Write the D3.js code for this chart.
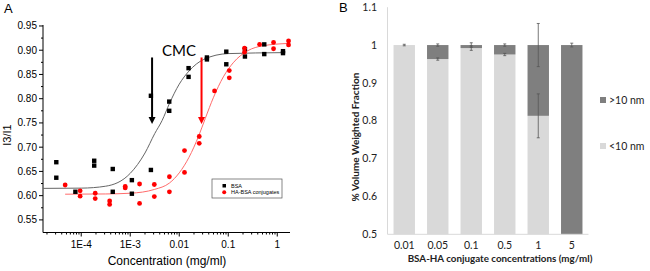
<!DOCTYPE html>
<html>
<head>
<meta charset="utf-8">
<script src="https://cdn.jsdelivr.net/npm/d3@7"></script>
<style>
body { margin: 0; background: #fff; }
</style>
</head>
<body>
<div id="chart"></div>
<script>
// ---- panel A data: I3/I1 ratio vs concentration ----
let bsaConc = [3.1e-5, 3.1e-5, 7.6e-5, 1.84e-4, 1.84e-4, 4.4e-4, 4.4e-4, 1.08e-3, 1.08e-3, 2.64e-3, 2.64e-3,
    6.25e-3, 6.25e-3, 0.0155, 0.0155, 0.0367, 0.0367, 0.0912, 0.0912, 0.219, 0.219, 0.543, 0.543, 1.31, 1.31]
let bsaRatio = [0.669, 0.637, 0.608, 0.672, 0.662, 0.655, 0.608, 0.632, 0.604, 0.653, 0.806,
    0.794, 0.775, 0.863, 0.845, 0.885, 0.881, 0.897, 0.871, 0.902, 0.887, 0.912, 0.892, 0.898, 0.894]
let conjConc = [4.7e-5, 9.5e-5, 9.5e-5, 1.93e-4, 1.93e-4, 3.8e-4, 3.8e-4, 7.9e-4, 7.9e-4, 1.55e-3, 1.55e-3,
    3.1e-3, 3.1e-3, 6.3e-3, 6.3e-3, 0.0128, 0.0128, 0.0256, 0.0256, 0.0525, 0.105, 0.105, 0.215, 0.215,
    0.436, 0.84, 0.84, 1.7, 1.7]
let conjRatio = [0.622, 0.610, 0.599, 0.605, 0.594, 0.589, 0.582, 0.619, 0.616, 0.624, 0.584,
    0.623, 0.598, 0.639, 0.608, 0.693, 0.648, 0.722, 0.708, 0.816, 0.858, 0.843, 0.904, 0.896,
    0.912, 0.916, 0.903, 0.919, 0.911]

// fitted sigmoid curves
let bsaFitConc = [1.66e-5, 1e-4, 3.16e-4, 1e-3, 2e-3, 3.16e-3, 4.47e-3, 6.3e-3, 0.01, 0.0158, 0.0316, 0.1, 1.32]
let bsaFitRatio = [0.615, 0.6155, 0.6195, 0.646, 0.688, 0.728, 0.755, 0.790, 0.830, 0.857, 0.881, 0.893, 0.895]
let conjFitConc = [4.7e-5, 3.16e-4, 1e-3, 3.16e-3, 6.3e-3, 0.01, 0.0158, 0.0251, 0.0339, 0.0501, 0.0794, 0.126, 0.251, 0.501, 1.7]
let conjFitRatio = [0.603, 0.6035, 0.605, 0.613, 0.626, 0.647, 0.679, 0.724, 0.759, 0.803, 0.845, 0.874, 0.899, 0.909, 0.914]

// CMC arrows
let cmcConc = [2.79e-3, 0.0285]
let cmcColors = ["#000", "#ff0000"]
let arrowFrom = 0.885, arrowTo = 0.748

let xTicksA = [1e-4, 1e-3, 0.01, 0.1, 1]
let xLabelsA = ["1E-4", "1E-3", "0.01", "0.1", "1"]
let yTicksA = [0.55, 0.60, 0.65, 0.70, 0.75, 0.80, 0.85, 0.90, 0.95]

// ---- panel B data: volume weighted fraction ----
let categories = ["0.01", "0.05", "0.1", "0.5", "1", "5"]
let under10 = [1.0, 0.963, 0.992, 0.975, 0.813, 0]
let over10 = [0, 0.037, 0.008, 0.025, 0.187, 1.0]
let under10Err = [0.002, 0.003, 0.006, 0.003, 0.058, 0]
let over10Err = [0, 0.003, 0.006, 0.003, 0.057, 0.005]
let yTicksB = [0.5, 0.6, 0.7, 0.8, 0.9, 1.0, 1.1]

let svg = d3.select("#chart").append("svg")
    .attr("width", 650)
    .attr("height", 271)
    .style("font-family", "'Liberation Sans', Arial, sans-serif")

// ================= panel A =================
let xA = d3.scaleLog().domain([Math.pow(10, -4.78), Math.pow(10, 0.26)]).range([43, 290])
let yA = d3.scaleLinear().domain([0.524, 0.952]).range([232.5, 25])

let gA = svg.append("g")

gA.append("text").attr("x", 4).attr("y", 13).attr("font-size", 13).text("A")

// y axis
let minorY = d3.range(0.575, 0.95, 0.05)
gA.append("line").attr("x1", 43).attr("x2", 43).attr("y1", yA.range()[0]).attr("y2", yA.range()[1])
    .attr("stroke", "#000").attr("stroke-width", 1)
gA.selectAll(".ytk").data(yTicksA).enter().append("line")
    .attr("x1", 39).attr("x2", 43).attr("y1", d => yA(d)).attr("y2", d => yA(d))
    .attr("stroke", "#000")
gA.selectAll(".ymn").data(minorY).enter().append("line")
    .attr("x1", 41).attr("x2", 43).attr("y1", d => yA(d)).attr("y2", d => yA(d))
    .attr("stroke", "#000")
gA.selectAll(".ylb").data(yTicksA).enter().append("text")
    .attr("x", 37).attr("y", d => yA(d)).attr("dy", "0.35em")
    .attr("text-anchor", "end").attr("font-size", 10)
    .text(d => d.toFixed(2))

// x axis
let minorX = []
for (let dec = 1e-5; dec < 10; dec *= 10) {
    for (let k = 2; k <= 9; k++) {
        let v = k * dec
        if (v > xA.domain()[0] && v < xA.domain()[1]) minorX.push(v)
    }
}
gA.append("line").attr("x1", 43).attr("x2", 290).attr("y1", 232.5).attr("y2", 232.5)
    .attr("stroke", "#000")
gA.selectAll(".xtk").data(xTicksA).enter().append("line")
    .attr("x1", d => xA(d)).attr("x2", d => xA(d)).attr("y1", 232.5).attr("y2", 236.5)
    .attr("stroke", "#000")
gA.selectAll(".xmn").data(minorX).enter().append("line")
    .attr("x1", d => xA(d)).attr("x2", d => xA(d)).attr("y1", 232.5).attr("y2", 234.5)
    .attr("stroke", "#000")
gA.selectAll(".xlb").data(xTicksA).enter().append("text")
    .attr("x", d => xA(d)).attr("y", 248)
    .attr("text-anchor", "middle").attr("font-size", 10)
    .text((d, i) => xLabelsA[i])

gA.append("text").attr("x", 167).attr("y", 265).attr("text-anchor", "middle")
    .attr("font-size", 12).text("Concentration (mg/ml)")
gA.append("text").attr("transform", "translate(11,135) rotate(-90)")
    .attr("text-anchor", "middle").attr("font-size", 11).text("I3/I1")

// fit lines
let fitLine = d3.line().x(d => xA(d[0])).y(d => yA(d[1])).curve(d3.curveMonotoneX)
gA.append("path").datum(d3.zip(bsaFitConc, bsaFitRatio))
    .attr("d", fitLine).attr("fill", "none").attr("stroke", "#666").attr("stroke-width", 1)
gA.append("path").datum(d3.zip(conjFitConc, conjFitRatio))
    .attr("d", fitLine).attr("fill", "none").attr("stroke", "#ff6b6b").attr("stroke-width", 1)

// points
gA.selectAll(".bsa").data(d3.zip(bsaConc, bsaRatio)).enter().append("rect")
    .attr("x", d => xA(d[0]) - 2.2).attr("y", d => yA(d[1]) - 2.2)
    .attr("width", 4.4).attr("height", 4.4).attr("fill", "#000")
gA.selectAll(".conj").data(d3.zip(conjConc, conjRatio)).enter().append("circle")
    .attr("cx", d => xA(d[0])).attr("cy", d => yA(d[1])).attr("r", 2.4)
    .attr("fill", "#ff0000")

// CMC arrows
cmcConc.forEach(function(c, i) {
    let ax = xA(c), y0 = yA(arrowFrom), y1 = yA(arrowTo)
    gA.append("line").attr("x1", ax).attr("x2", ax).attr("y1", y0).attr("y2", y1 - 5)
        .attr("stroke", cmcColors[i]).attr("stroke-width", 2)
    gA.append("path")
        .attr("d", "M" + (ax - 3.5) + "," + (y1 - 7) + "L" + (ax + 3.5) + "," + (y1 - 7) + "L" + ax + "," + y1 + "Z")
        .attr("fill", cmcColors[i])
})
gA.append("text").attr("x", 162).attr("y", 56).attr("font-size", 15)
    .style("font-family", "Lato, 'Open Sans', sans-serif").text("CMC")

// legend
let legA = gA.append("g").attr("transform", "translate(212,179)")
legA.append("rect").attr("width", 70).attr("height", 19)
    .attr("fill", "#fff").attr("stroke", "#555").attr("stroke-width", 0.7)
legA.append("rect").attr("x", 10.5).attr("y", 5).attr("width", 3.5).attr("height", 3.5).attr("fill", "#000")
legA.append("circle").attr("cx", 12.2).attr("cy", 13.3).attr("r", 2).attr("fill", "#ff0000")
legA.append("text").attr("x", 19).attr("y", 8.8).attr("font-size", 5.5).text("BSA")
legA.append("text").attr("x", 19).attr("y", 15.2).attr("font-size", 5.5).text("HA-BSA conjugates")

// ================= panel B =================
let xB = d3.scaleBand().domain(categories).range([387.5, 588.5]).paddingInner(0.36).paddingOuter(0.18)
let yB = d3.scaleLinear().domain([0.5, 1.1]).range([234.3, 7.2]).clamp(true)

let gB = svg.append("g").style("font-family", "Lato, 'Open Sans', sans-serif")

gB.append("text").attr("x", 339).attr("y", 12).attr("font-size", 13)
    .style("font-family", "'Liberation Sans', Arial, sans-serif").text("B")

let light = "#d9d9d9", dark = "#7f7f7f"

gB.selectAll(".lo").data(categories).enter().append("rect")
    .attr("x", d => xB(d)).attr("width", xB.bandwidth())
    .attr("y", (d, i) => yB(under10[i])).attr("height", (d, i) => yB(0) - yB(under10[i]))
    .attr("fill", light)
gB.selectAll(".hi").data(categories).enter().append("rect")
    .attr("x", d => xB(d)).attr("width", xB.bandwidth())
    .attr("y", (d, i) => yB(under10[i] + over10[i]))
    .attr("height", (d, i) => yB(under10[i]) - yB(under10[i] + over10[i]))
    .attr("fill", dark)

// error bars
function errBar(cat, v, e) {
    if (v < 0.5) return
    let cx = xB(cat) + xB.bandwidth() / 2
    let g = gB.append("g").attr("stroke", "#555").attr("stroke-width", 0.8)
    g.append("line").attr("x1", cx).attr("x2", cx).attr("y1", yB(v - e)).attr("y2", yB(v + e))
    g.append("line").attr("x1", cx - 1.5).attr("x2", cx + 1.5).attr("y1", yB(v - e)).attr("y2", yB(v - e))
    g.append("line").attr("x1", cx - 1.5).attr("x2", cx + 1.5).attr("y1", yB(v + e)).attr("y2", yB(v + e))
}
categories.forEach(function(c, i) {
    errBar(c, under10[i], under10Err[i])
    if (over10[i] > 0) errBar(c, under10[i] + over10[i], over10Err[i])
})

// axes
gB.append("line").attr("x1", 387.5).attr("x2", 387.5).attr("y1", 7.2).attr("y2", 234.3)
    .attr("stroke", "#d9d9d9")
gB.append("line").attr("x1", 387.5).attr("x2", 588.5).attr("y1", 234.3).attr("y2", 234.3)
    .attr("stroke", "#d9d9d9")
gB.selectAll(".ylb").data(yTicksB).enter().append("text")
    .attr("x", 377).attr("y", d => yB(d)).attr("dy", "0.35em")
    .attr("text-anchor", "end").attr("font-size", 10.5).attr("fill", "#222")
    .text(d => String(+d.toFixed(1)))
gB.selectAll(".xlb").data(categories).enter().append("text")
    .attr("x", d => xB(d) + xB.bandwidth() / 2).attr("y", 249)
    .attr("text-anchor", "middle").attr("font-size", 10.5).attr("fill", "#222")
    .text(d => d)

gB.append("text").attr("x", 500).attr("y", 262).attr("text-anchor", "middle")
    .attr("font-size", 9.8).attr("font-weight", "bold").attr("fill", "#222")
    .text("BSA-HA conjugate concentrations (mg/ml)")
gB.append("text").attr("transform", "translate(359,137) rotate(-90)")
    .attr("text-anchor", "middle").attr("font-size", 10).attr("font-weight", "bold").attr("fill", "#222")
    .text("% Volume Weighted Fraction")

// legend
let legB = gB.append("g").attr("transform", "translate(600,100)")
legB.append("rect").attr("x", 0).attr("y", -3).attr("width", 6).attr("height", 6).attr("fill", dark)
legB.append("text").attr("x", 9).attr("y", 0).attr("dy", "0.35em").attr("font-size", 10.5).attr("fill", "#222").text(">10 nm")
legB.append("rect").attr("x", 0).attr("y", 43).attr("width", 6).attr("height", 6).attr("fill", light)
legB.append("text").attr("x", 9).attr("y", 46).attr("dy", "0.35em").attr("font-size", 10.5).attr("fill", "#222").text("<10 nm")
</script>
</body>
</html>
